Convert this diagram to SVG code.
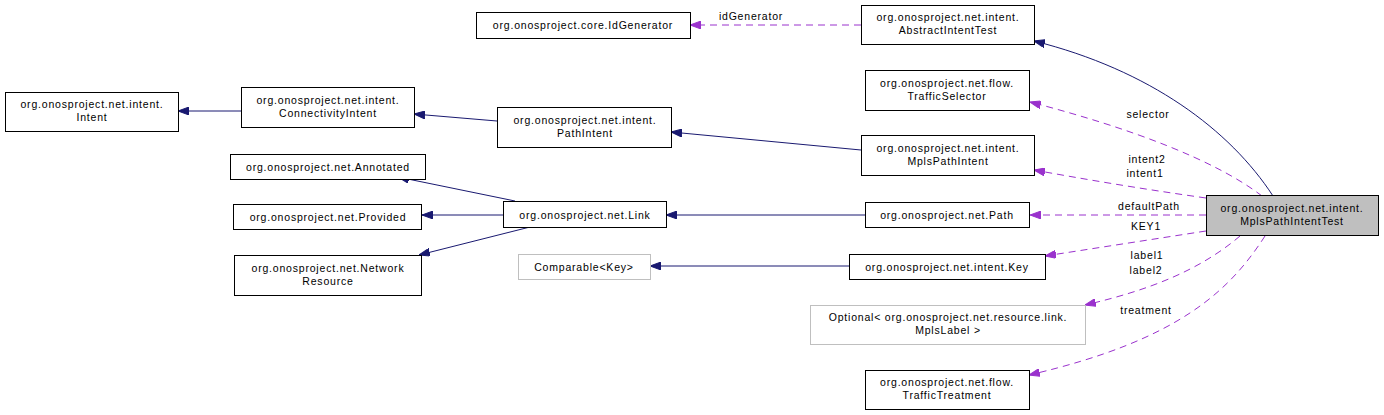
<svg xmlns="http://www.w3.org/2000/svg" width="1384" height="415" viewBox="0 0 1384 415">
<style>
text{font-family:"Liberation Sans",Arial,sans-serif;font-size:10.5px;letter-spacing:0.8px;text-anchor:middle;fill:#000}
.b{fill:#fff;stroke:#000;stroke-width:1}
.g{fill:#fff;stroke:#bfbfbf;stroke-width:1}
.m{fill:#bfbfbf;stroke:#000;stroke-width:1}
.inh{fill:none;stroke:#191970;stroke-width:1;marker-end:url(#ah)}
.use{fill:none;stroke:#9a32cd;stroke-width:1;stroke-dasharray:7,5;marker-end:url(#au)}
</style>
<defs>
<marker id="ah" markerUnits="userSpaceOnUse" markerWidth="11" markerHeight="8" refX="11" refY="4" orient="auto"><path d="M0,0 L11,4 L0,8 z" fill="#191970" stroke="#191970"/></marker>
<marker id="au" markerUnits="userSpaceOnUse" markerWidth="11" markerHeight="8" refX="11" refY="4" orient="auto"><path d="M0,0 L11,4 L0,8 z" fill="#9a32cd" stroke="#9a32cd"/></marker>
</defs>
<rect width="1384" height="415" fill="#fff"/>
<g id="connectors">
<path class="inh" d="M241,111 L178,111"/>
<path class="inh" d="M497,121 L414,114"/>
<path class="inh" d="M861,150 L671,132"/>
<path class="inh" d="M515,201 L398,177"/>
<path class="inh" d="M503,215 L422,215"/>
<path class="inh" d="M530,227 L419,255"/>
<path class="inh" d="M865,215 L666,215"/>
<path class="inh" d="M849,266 L650,266"/>
<path class="inh" d="M1273,196 C1230,130 1150,70 1034,41"/>
<path class="use" d="M861,25 L690,25"/>
<path class="use" d="M1262,196 C1215,160 1130,128 1030,102"/>
<path class="use" d="M1206,198 C1150,190 1100,182 1034,170"/>
<path class="use" d="M1206,215 L1030,215"/>
<path class="use" d="M1206,231 L1045,256"/>
<path class="use" d="M1240,236 C1200,270 1150,290 1085,305"/>
<path class="use" d="M1265,236 C1230,290 1180,340 1029,375"/>
<text x="751" y="20">idGenerator</text>
<text x="1148" y="118">selector</text>
<text x="1147" y="163">intent2</text>
<text x="1145" y="177">intent1</text>
<text x="1149" y="210">defaultPath</text>
<text x="1146" y="230">KEY1</text>
<text x="1147" y="259">label1</text>
<text x="1146" y="274">label2</text>
<text x="1146" y="314">treatment</text>
</g>
<g id="n_idgen"><rect class="b" x="476.5" y="12.5" width="214" height="26"/><text x="583" y="29">org.onosproject.core.IdGenerator</text></g>
<g id="n_abstract"><rect class="b" x="861.5" y="5.5" width="173" height="39"/><text x="948" y="21">org.onosproject.net.intent.</text><text x="948" y="34">AbstractIntentTest</text></g>
<g id="n_selector"><rect class="b" x="865.5" y="70.5" width="164" height="40"/><text x="947" y="87">org.onosproject.net.flow.</text><text x="947" y="100">TrafficSelector</text></g>
<g id="n_mplspathintent"><rect class="b" x="861.5" y="135.5" width="173" height="40"/><text x="948" y="152">org.onosproject.net.intent.</text><text x="948" y="165">MplsPathIntent</text></g>
<g id="n_path"><rect class="b" x="865.5" y="202.5" width="164" height="25"/><text x="947" y="218.5">org.onosproject.net.Path</text></g>
<g id="n_key"><rect class="b" x="849.5" y="254.5" width="196" height="25"/><text x="947" y="270.5">org.onosproject.net.intent.Key</text></g>
<g id="n_optional"><rect class="g" x="810.5" y="305.5" width="275" height="39"/><text x="948" y="321">Optional&lt; org.onosproject.net.resource.link.</text><text x="948" y="334">MplsLabel &gt;</text></g>
<g id="n_treatment"><rect class="b" x="865.5" y="370.5" width="164" height="39"/><text x="947" y="386">org.onosproject.net.flow.</text><text x="947" y="399">TrafficTreatment</text></g>
<g id="n_test"><rect class="m" x="1206.5" y="195.5" width="172" height="40"/><text x="1292" y="212">org.onosproject.net.intent.</text><text x="1292" y="225">MplsPathIntentTest</text></g>
<g id="n_intent"><rect class="b" x="5.5" y="92.5" width="173" height="39"/><text x="92" y="108">org.onosproject.net.intent.</text><text x="92" y="121">Intent</text></g>
<g id="n_conn"><rect class="b" x="241.5" y="87.5" width="173" height="40"/><text x="328" y="104">org.onosproject.net.intent.</text><text x="328" y="117">ConnectivityIntent</text></g>
<g id="n_pathintent"><rect class="b" x="497.5" y="107.5" width="174" height="40"/><text x="585" y="124">org.onosproject.net.intent.</text><text x="585" y="137">PathIntent</text></g>
<g id="n_annotated"><rect class="b" x="230.5" y="154.5" width="195" height="25"/><text x="328" y="170.5">org.onosproject.net.Annotated</text></g>
<g id="n_provided"><rect class="b" x="233.5" y="204.5" width="188" height="25"/><text x="328" y="220.5">org.onosproject.net.Provided</text></g>
<g id="n_netres"><rect class="b" x="234.5" y="255.5" width="187" height="40"/><text x="328" y="272">org.onosproject.net.Network</text><text x="328" y="285">Resource</text></g>
<g id="n_link"><rect class="b" x="503.5" y="201.5" width="163" height="26"/><text x="585" y="218.5">org.onosproject.net.Link</text></g>
<g id="n_comparable"><rect class="g" x="518.5" y="254.5" width="132" height="25"/><text x="584" y="270.5">Comparable&lt;Key&gt;</text></g>
</svg>
